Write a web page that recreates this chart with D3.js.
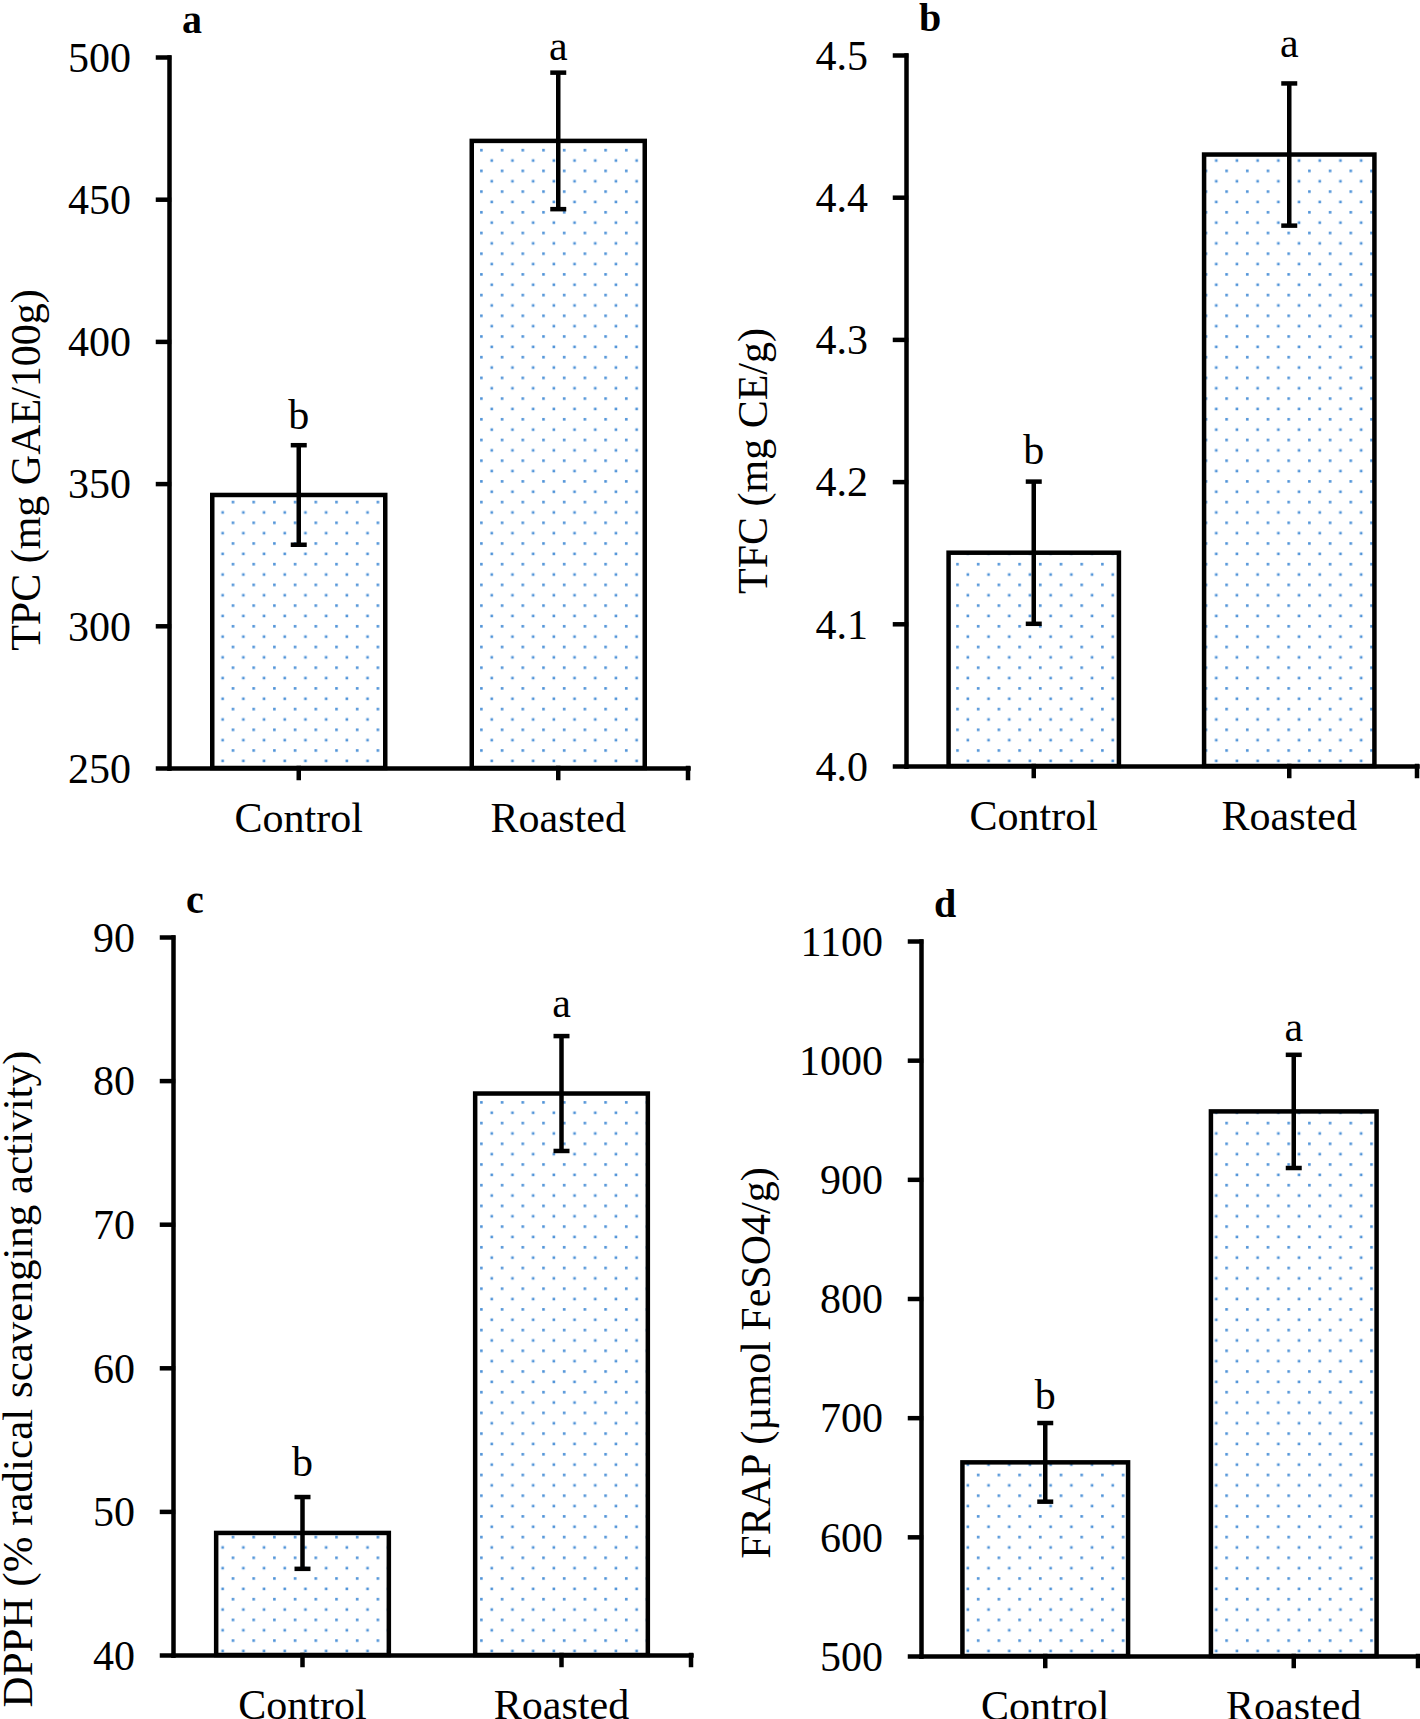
<!DOCTYPE html>
<html>
<head>
<meta charset="utf-8">
<script src="https://cdn.jsdelivr.net/npm/d3@7"></script>
<style>
  body { margin: 0; background: #fff; }
  svg { display: block; }
  text { font-family: "Liberation Serif", "Times New Roman", serif; fill: #000; }
</style>
</head>
<body>
<div id="chart"></div>
<script>
// values
const categories = ["Control", "Roasted"];
const panelTags = ["a", "b", "c", "d"];
const yTitles = ["TPC (mg GAE/100g)", "TFC (mg CE/g)", "DPPH (% radical scavenging activity)", "FRAP (µmol FeSO4/g)"];
const yDomains = [[250, 500], [4.0, 4.5], [40, 90], [500, 1100]];
const yTickSteps = [50, 0.1, 10, 100];
const yTickFormats = ["d", ".1f", "d", "d"];
const meanValues = [[346, 470.5], [4.15, 4.43], [48.5, 79.1], [662.5, 957]];
const errorValues = [[17.5, 24], [0.05, 0.05], [2.5, 4], [33, 47.5]];
const sigLetters = [["b", "a"], ["b", "a"], ["b", "a"], ["b", "a"]];

// plot boxes (pixels) for the four panels
var layout = [
    { x0: 169, x1: 688, y0: 57, y1: 768, titleX: 40, titleY: 470, titleSize: 42, sigGap: [16, 13] },
    { x0: 906, x1: 1417, y0: 55, y1: 766, titleX: 767, titleY: 461, titleSize: 42, sigGap: [18, 26] },
    { x0: 173, x1: 691, y0: 937, y1: 1655, titleX: 32, titleY: 1379, titleSize: 43, sigGap: [21, 19] },
    { x0: 921, x1: 1418, y0: 941, y1: 1656, titleX: 770, titleY: 1363, titleSize: 42, sigGap: [14, 14] }
];

var width = 1420, height = 1719;
var lineW = 4.5;
var dotColor = "#4f93d8";

var svg = d3.select("#chart").append("svg")
    .attr("width", width)
    .attr("height", height);

// dotted fill like the original
var pat = svg.append("defs").append("pattern")
    .attr("id", "dots")
    .attr("patternUnits", "userSpaceOnUse")
    .attr("width", 20.7)
    .attr("height", 20.7);
pat.append("rect").attr("width", 20.7).attr("height", 20.7).attr("fill", "#fff");
pat.append("rect").attr("x", 4).attr("y", 4).attr("width", 2.6).attr("height", 2.6).attr("fill", dotColor);
pat.append("rect").attr("x", 14.35).attr("y", 14.35).attr("width", 2.6).attr("height", 2.6).attr("fill", dotColor);

layout.forEach(function(box, i) {
    var g = svg.append("g");

    var x = d3.scaleBand()
        .domain(categories)
        .range([box.x0, box.x1])
        .paddingInner(1 / 3)
        .paddingOuter(1 / 6);

    var y = d3.scaleLinear()
        .domain(yDomains[i])
        .range([box.y1, box.y0]);

    var ticks = d3.range(yDomains[i][0], yDomains[i][1] + yTickSteps[i] / 2, yTickSteps[i]);

    var rows = categories.map(function(c, j) {
        return { cat: c, mean: meanValues[i][j], err: errorValues[i][j], sig: sigLetters[i][j], gap: box.sigGap[j] };
    });

    // bars
    g.selectAll("rect.bar")
        .data(rows)
        .enter().append("rect")
        .attr("class", "bar")
        .attr("x", function(d) { return x(d.cat); })
        .attr("y", function(d) { return y(d.mean); })
        .attr("width", x.bandwidth())
        .attr("height", function(d) { return box.y1 - y(d.mean); })
        .attr("fill", "url(#dots)")
        .attr("stroke", "#000")
        .attr("stroke-width", lineW);

    // y axis
    var yAxis = g.append("g")
        .attr("transform", "translate(" + box.x0 + ",0)")
        .call(d3.axisLeft(y)
            .tickValues(ticks)
            .tickSize(11)
            .tickSizeOuter(0)
            .tickPadding(27)
            .tickFormat(d3.format(yTickFormats[i])));
    yAxis.selectAll("path, line").attr("stroke", "#000").attr("stroke-width", lineW).attr("stroke-linecap", "square");
    yAxis.selectAll("text").style("font-size", "42px").attr("dy", "0.34em");

    // x axis
    var xAxis = g.append("g")
        .attr("transform", "translate(0," + box.y1 + ")")
        .call(d3.axisBottom(x)
            .tickSize(10)
            .tickSizeOuter(0)
            .tickPadding(24));
    xAxis.append("line")
        .attr("x1", box.x1).attr("x2", box.x1)
        .attr("y1", 0).attr("y2", 10);
    xAxis.selectAll("path, line").attr("stroke", "#000").attr("stroke-width", lineW).attr("stroke-linecap", "square");
    xAxis.selectAll("text").style("font-size", "42px");

    // error bars
    var eb = g.selectAll("g.err")
        .data(rows)
        .enter().append("g")
        .attr("class", "err")
        .attr("stroke", "#000")
        .attr("stroke-width", lineW);
    var cx = function(d) { return x(d.cat) + x.bandwidth() / 2; };
    eb.append("line")
        .attr("x1", cx).attr("x2", cx)
        .attr("y1", function(d) { return y(d.mean + d.err); })
        .attr("y2", function(d) { return y(d.mean - d.err); });
    eb.append("line")
        .attr("x1", function(d) { return cx(d) - 8; })
        .attr("x2", function(d) { return cx(d) + 8; })
        .attr("y1", function(d) { return y(d.mean + d.err); })
        .attr("y2", function(d) { return y(d.mean + d.err); });
    eb.append("line")
        .attr("x1", function(d) { return cx(d) - 8; })
        .attr("x2", function(d) { return cx(d) + 8; })
        .attr("y1", function(d) { return y(d.mean - d.err); })
        .attr("y2", function(d) { return y(d.mean - d.err); });

    // significance letters
    g.selectAll("text.sig")
        .data(rows)
        .enter().append("text")
        .attr("class", "sig")
        .attr("x", cx)
        .attr("y", function(d) { return y(d.mean + d.err) - d.gap; })
        .attr("text-anchor", "middle")
        .style("font-size", "42px")
        .text(function(d) { return d.sig; });

    // panel tag
    g.append("text")
        .attr("x", box.x0 + 13)
        .attr("y", box.y0 - 24)
        .style("font-size", "40px")
        .style("font-weight", "bold")
        .text(panelTags[i]);

    // y title
    g.append("text")
        .attr("transform", "translate(" + box.titleX + "," + box.titleY + ") rotate(-90)")
        .attr("text-anchor", "middle")
        .style("font-size", box.titleSize + "px")
        .text(yTitles[i]);
});
</script>
</body>
</html>
